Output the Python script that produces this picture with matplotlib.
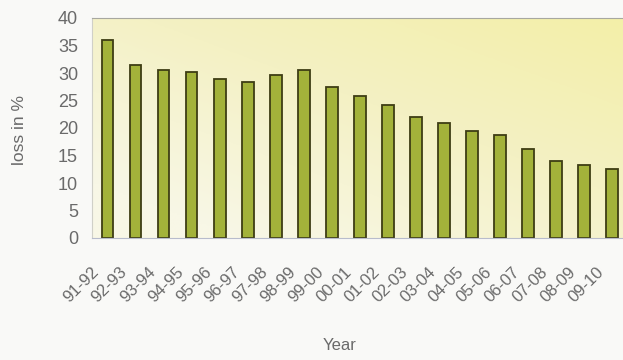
import numpy as np
import matplotlib
matplotlib.use("Agg")
import matplotlib.pyplot as plt
import matplotlib.transforms as mtransforms
from matplotlib.colors import LinearSegmentedColormap

# Loss per year (%)
years = ['91-92', '92-93', '93-94', '94-95', '95-96', '96-97', '97-98', '98-99',
         '99-00', '00-01', '01-02', '02-03', '03-04', '04-05', '05-06', '06-07',
         '07-08', '08-09', '09-10']
loss = [36.0, 31.4, 30.6, 30.1, 29.0, 28.3, 29.7, 30.5,
        27.5, 25.9, 24.2, 22.0, 20.9, 19.5, 18.7, 16.1,
        14.0, 13.2, 12.5]
y_ticks = [0, 5, 10, 15, 20, 25, 30, 35, 40]

plt.rcParams['font.family'] = ['Liberation Sans Narrow', 'Liberation Sans', 'DejaVu Sans']
text_col = '#6a6a6a'

fig = plt.figure(figsize=(6.23, 3.6), dpi=100, facecolor='#f9f9f7')
ax = fig.add_axes([92 / 623, 1 - 238 / 360, (632 - 92) / 623, (238 - 18) / 360])

x = np.arange(len(years))
xmin, xmax = -0.55, 18.7
ax.set_xlim(xmin, xmax)
ax.set_ylim(0, 40)

# soft yellow gradient behind the bars
gx, gy = np.meshgrid(np.linspace(0, 1, 200), np.linspace(0, 1, 100))
g = np.clip(0.55 * gx + 0.6 * gy - 0.15, 0, 1)
cmap = LinearSegmentedColormap.from_list('bg', ['#f8f7e6', '#f4f1c4', '#f3efa8'])
ax.imshow(g, extent=[xmin, xmax, 0, 40], origin='lower', aspect='auto',
          cmap=cmap, zorder=0, interpolation='bilinear')

ax.bar(x, loss, width=0.42, color='#a3b23a', edgecolor='#3e3d14', linewidth=1.3, zorder=2)

ax.spines['right'].set_visible(False)
ax.spines['top'].set_color('#a8a8a0')
ax.spines['left'].set_color('#d0d0c8')
ax.spines['bottom'].set_color('#b8bccc')
ax.spines['left'].set_linewidth(0.8)

ax.set_yticks(y_ticks)
ax.set_yticklabels([str(v) for v in y_ticks], fontsize=13, color=text_col)
ax.set_xticks(x)
ax.set_xticklabels(years, rotation=45, ha='right', rotation_mode='anchor',
                   fontsize=12, color=text_col)
ax.tick_params(axis='both', length=0)
ax.tick_params(axis='y', pad=10)
ax.tick_params(axis='x', pad=19)

# shift the slanted year labels a little to the left of their bars
shift = mtransforms.ScaledTranslation(-16 / 100, 0, fig.dpi_scale_trans)
for lbl in ax.get_xticklabels():
    lbl.set_transform(lbl.get_transform() + shift)

fig.text(20 / 623, 1 - 130 / 360, 'loss in %', rotation=90, ha='center', va='center',
         fontsize=12.5, color=text_col)
fig.text(340 / 623, 1 - 345 / 360, 'Year', ha='center', va='center',
         fontsize=12, color=text_col, family=['Liberation Sans', 'DejaVu Sans'])

fig.savefig('out.png', dpi=100, facecolor=fig.get_facecolor())
